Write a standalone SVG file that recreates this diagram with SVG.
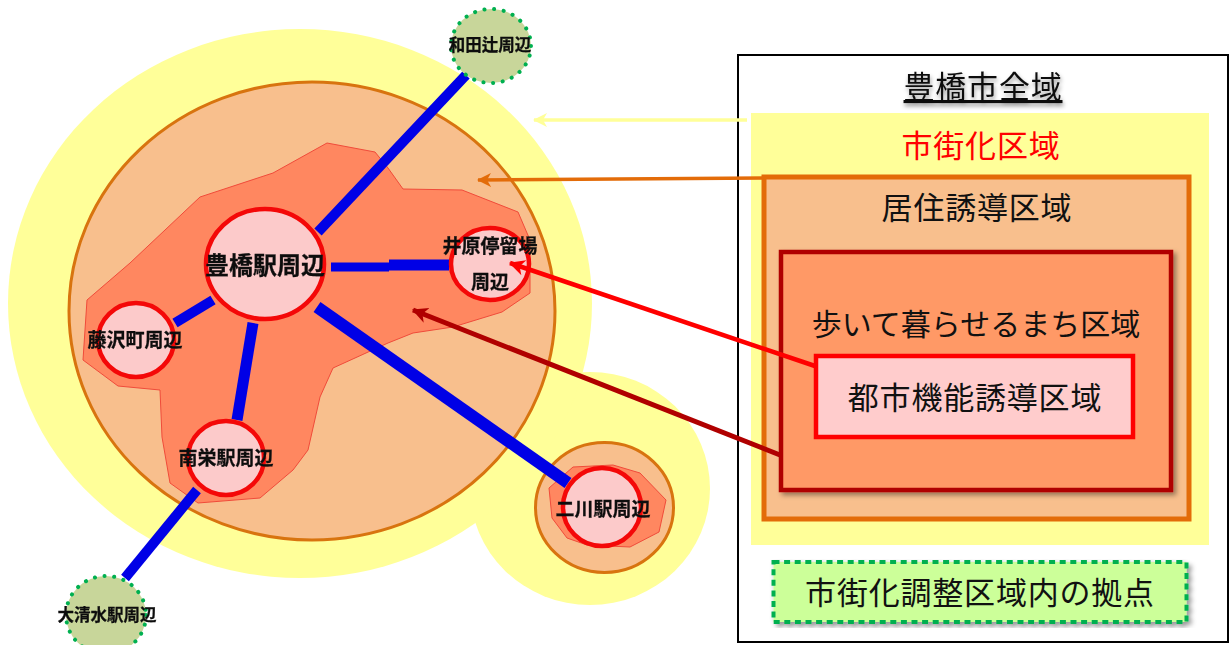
<svg xmlns="http://www.w3.org/2000/svg" width="1230" height="645" viewBox="0 0 1230 645">
<style>
text{font-family:"Noto Sans CJK JP","Noto Sans",sans-serif;text-anchor:middle}
.t{font-size:31px;letter-spacing:.8px;fill:#111}
.m{font-weight:700;fill:#111;stroke:#111;stroke-width:.3;filter:url(#soft)}
.st{fill:#fccaca;stroke:#f40808;stroke-width:4.5}
.out{fill:#c8d69a;stroke:#00b050;stroke-width:4;stroke-dasharray:.1 9.6;stroke-linecap:round}
.b{fill:none;stroke:#0000e6}
.poly{fill:#ff8760;stroke:#f04b3a;stroke-width:1}
.orange{fill:#f8bf8d;stroke:#d8740f;stroke-width:3}
</style>
<defs>
<filter id="soft" x="-10%" y="-20%" width="120%" height="140%"><feGaussianBlur stdDeviation="0.55"/></filter>
<filter id="shadow" x="-5%" y="-5%" width="112%" height="115%"><feDropShadow dx="3" dy="3" stdDeviation="2.500" flood-color="#000" flood-opacity=".4"/></filter>
<filter id="tshadow" x="-5%" y="-20%" width="110%" height="150%"><feDropShadow dx="1" dy="3" stdDeviation="2" flood-color="#000" flood-opacity=".4"/></filter>
<marker id="hy" markerUnits="userSpaceOnUse" markerWidth="16" markerHeight="16" refX="13" refY="7" orient="auto" viewBox="0 0 16 14"><path d="M0 0 14 7 0 14 4 7z" fill="#ffff99"/></marker>
<marker id="ho" markerUnits="userSpaceOnUse" markerWidth="16" markerHeight="16" refX="13" refY="7" orient="auto" viewBox="0 0 16 14"><path d="M0 0 14 7 0 14 4 7z" fill="#e36c09"/></marker>
<marker id="hr" markerUnits="userSpaceOnUse" markerWidth="18" markerHeight="18" refX="13" refY="7" orient="auto" viewBox="0 0 16 14"><path d="M0 0 14 7 0 14 4 7z" fill="#ff0000"/></marker>
<marker id="hd" markerUnits="userSpaceOnUse" markerWidth="18" markerHeight="18" refX="13" refY="7" orient="auto" viewBox="0 0 16 14"><path d="M0 0 14 7 0 14 4 7z" fill="#b00000"/></marker>
</defs>
<g id="map-areas">
<ellipse cx="590" cy="488.500" rx="120" ry="116.500" fill="#ffff99"/>
<ellipse cx="300" cy="303.500" rx="292" ry="274.500" fill="#ffff99"/>
<ellipse cx="312" cy="311" rx="243" ry="229" class="orange"/>
<ellipse cx="604.500" cy="507.500" rx="69" ry="65" class="orange"/>
<polygon class="poly" points="327,143 375,152 388,168 403,189 462,190 518,212 530,240 530,293 502,312 453,327 413,333 388,343 333,368 320,397 308,450 293,470 260,498 198,503 170,483 162,437 160,390 118,386 83,360 87,300 130,263 200,197 273,173"/>
<polygon class="poly" points="549,488 573,467 613,465 640,473 666,500 659,532 630,547 587,545 567,538 552,518"/>
</g>
<g id="right-panel">
<rect x="738" y="55" width="490" height="587" fill="#fff" stroke="#000" stroke-width="2"/>
<rect x="751" y="113" width="458" height="432" fill="#ffff99"/>
<rect x="764" y="177" width="425" height="342" fill="#f8bf8d" stroke="#e36c09" stroke-width="5"/>
</g>
<g id="connectors" fill="none">
<path class="b" stroke-width="10" d="M466 75 318 232"/>
<path class="b" stroke-width="9" d="M331 267H389"/>
<path class="b" stroke-width="11" d="M389 265H449"/>
<path class="b" stroke-width="10" d="M175 323 213 300"/>
<path class="b" stroke-width="11" d="M253 323 237 420"/>
<path class="b" stroke-width="12" d="M317 307 568 483"/>
<path class="b" stroke-width="10" d="M197 490 125 578"/>
<path d="M747 120H534" stroke="#ffff99" stroke-width="3.500" marker-end="url(#hy)"/>
<path d="M763 178 478 180" stroke="#e36c09" stroke-width="3.500" marker-end="url(#ho)"/>
</g>
<g id="node-toyohashi"><ellipse class="st" cx="265" cy="264" rx="59" ry="55"/><text class="m" x="265" y="274" font-size="24">豊橋駅周辺</text></g>
<g id="node-fujisawa"><ellipse class="st" cx="136" cy="340" rx="38" ry="37"/><text class="m" x="135" y="347" font-size="19">藤沢町周辺</text></g>
<g id="node-minamisakae"><ellipse class="st" cx="226" cy="458" rx="38" ry="37"/><text class="m" x="226" y="465" font-size="19">南栄駅周辺</text></g>
<g id="node-ihara"><ellipse class="st" cx="490" cy="264" rx="39" ry="36"/><text class="m" x="490" y="253" font-size="19">井原停留場</text><text class="m" x="490" y="289" font-size="19">周辺</text></g>
<g id="node-futagawa"><ellipse class="st" cx="602" cy="507" rx="39" ry="39"/><text class="m" x="603" y="516" font-size="19">二川駅周辺</text></g>
<g id="node-wadatsuji"><ellipse class="out" cx="491" cy="46" rx="40" ry="37"/><text class="m" x="490" y="51" font-size="16.500">和田辻周辺</text></g>
<g id="node-oshimizu"><ellipse class="out" cx="106" cy="615" rx="40" ry="39"/><text class="m" x="107" y="621" font-size="16.500">大清水駅周辺</text></g>
<g id="legend">
<text class="t" x="983" y="98" filter="url(#tshadow)" text-decoration="underline">豊橋市全域</text>
<text class="t" x="981" y="157" style="fill:#ff0000">市街化区域</text>
<text class="t" x="977" y="219">居住誘導区域</text>
<rect x="781" y="252" width="390" height="238" fill="#ff9966" stroke="#b00000" stroke-width="4.500" filter="url(#shadow)"/>
<text class="t" x="976" y="335" style="font-size:30px;letter-spacing:0">歩いて暮らせるまち区域</text>
<rect x="816" y="356" width="317" height="81" fill="#ffcccc" stroke="#ff0000" stroke-width="4.500"/>
<text class="t" x="975" y="409">都市機能誘導区域</text>
<rect x="773.500" y="562" width="413" height="60" fill="#ccff99" stroke="#00b050" stroke-width="4" stroke-dasharray="6 4.600" filter="url(#shadow)"/>
<text class="t" x="980" y="604">市街化調整区域内の拠点</text>
</g>
<g id="top-connectors" fill="none">
<path d="M815 366 510 263" stroke="#ff0000" stroke-width="4.500" marker-end="url(#hr)"/>
<path d="M780 455 413 310" stroke="#b00000" stroke-width="5" marker-end="url(#hd)"/>
</g>
</svg>
